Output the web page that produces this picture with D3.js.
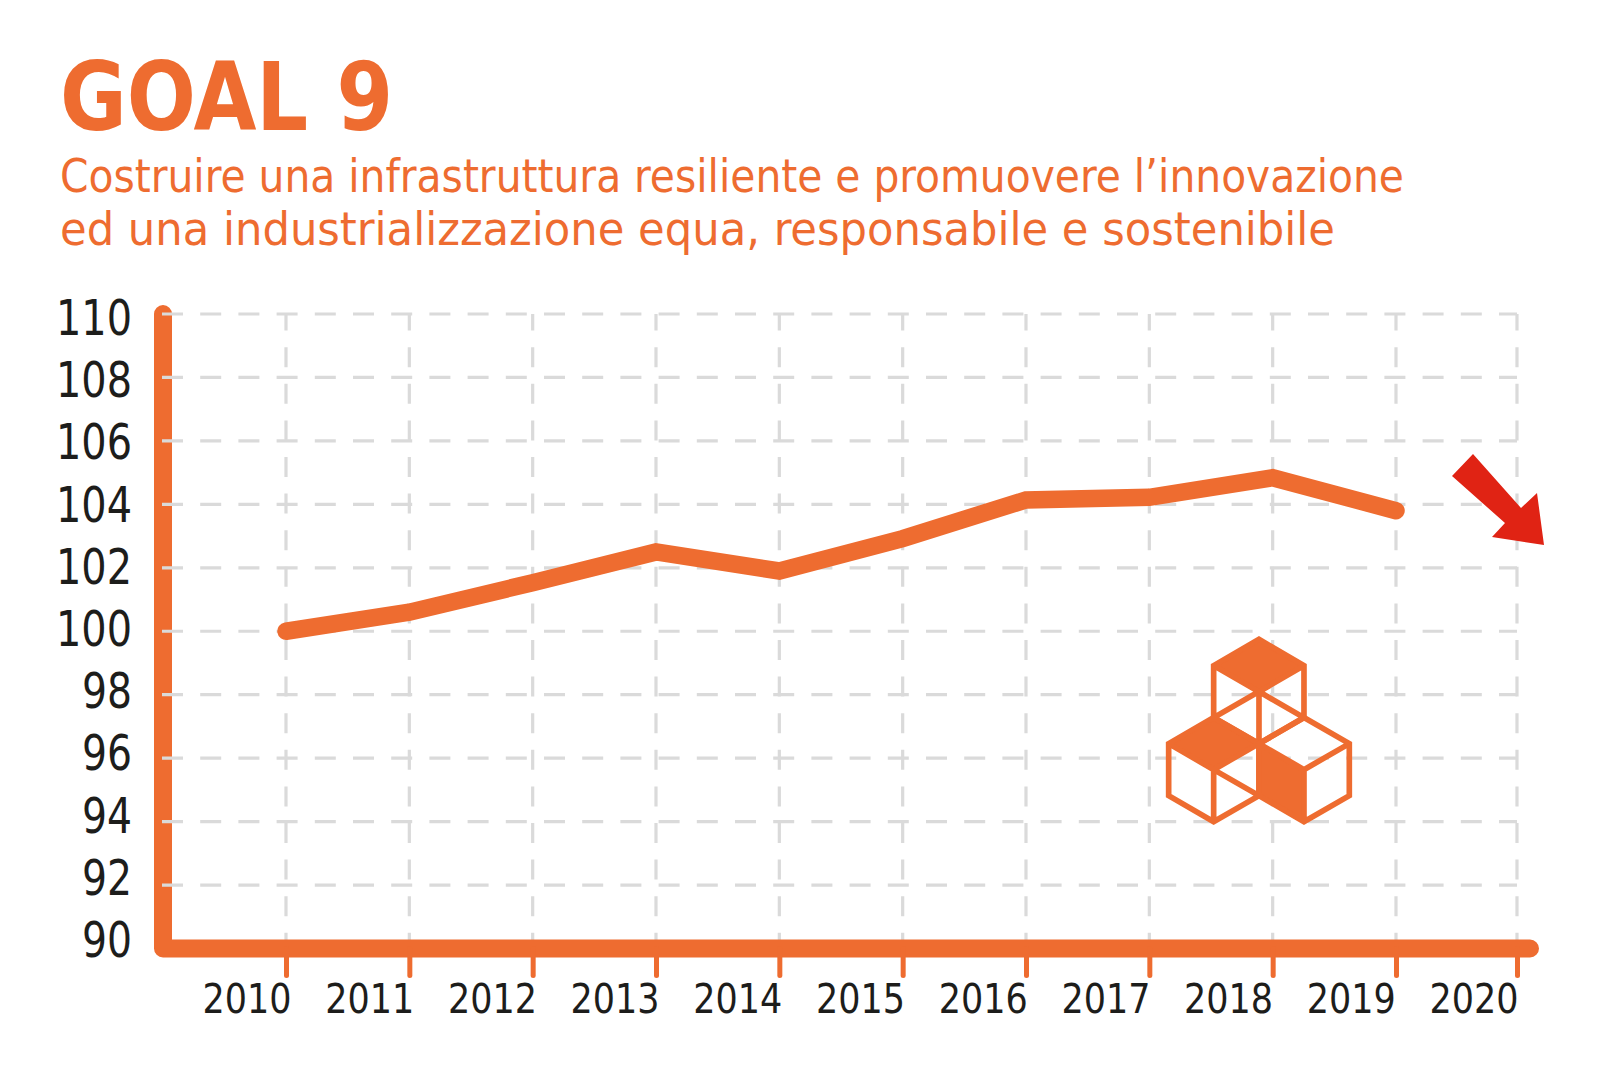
<!DOCTYPE html>
<html>
<head>
<meta charset="utf-8">
<script src="https://d3js.org/d3.v7.min.js"></script>
<style>
  html, body { margin: 0; padding: 0; background: #fff; }
  svg { display: block; }
  text { font-family: "DejaVu Sans Condensed", "DejaVu Sans", sans-serif; }
</style>
</head>
<body>
<svg id="chart" width="1600" height="1085"></svg>
<script>
const years = [2010, 2011, 2012, 2013, 2014, 2015, 2016, 2017, 2018, 2019];
const yearTicks = [2010, 2011, 2012, 2013, 2014, 2015, 2016, 2017, 2018, 2019, 2020];
const values = [100, 100.6, 101.53, 102.5, 101.9, 102.92, 104.14, 104.22, 104.84, 103.8];
const yTicks = [90, 92, 94, 96, 98, 100, 102, 104, 106, 108, 110];
const titleText = "GOAL 9";
const subtitleLines = [
  "Costruire una infrastruttura resiliente e promuovere l\u2019innovazione",
  "ed una industrializzazione equa, responsabile e sostenibile"
];

const orange = "#ee6c30";
const grey = "#dadada";
const svg = d3.select("#chart");

// last year sits a bit closer than the others in the original
const x = d3.scaleLinear().domain([2010, 2019, 2020]).range([286, 1396, 1517]);
const y = d3.scaleLinear().domain([90, 110]).range([948.5, 314]);
// tick labels are spaced a little tighter than the ticks and gridlines
const labelX = d3.scaleLinear().domain([2010, 2020]).range([291, 1518]);
const labelY = d3.scaleLinear().domain([90, 110]).range([957, 335]);

// title
svg.append("text")
  .attr("x", 60).attr("y", 130)
  .attr("font-size", 94).attr("font-weight", "bold")
  .attr("fill", orange)
  .attr("textLength", 333).attr("lengthAdjust", "spacingAndGlyphs")
  .text(titleText);

const subtitleWidths = [1344, 1275];
const subtitleBase = [192, 245];
subtitleLines.forEach((line, i) => {
  svg.append("text")
    .attr("x", 60).attr("y", subtitleBase[i])
    .attr("font-size", 46)
    .attr("fill", orange)
    .attr("textLength", subtitleWidths[i]).attr("lengthAdjust", "spacingAndGlyphs")
    .text(line);
});

// vertical grid
svg.append("g").selectAll("line")
  .data(yearTicks)
  .join("line")
  .attr("x1", d => x(d)).attr("x2", d => x(d))
  .attr("y1", y(110)).attr("y2", y(90))
  .attr("stroke", grey).attr("stroke-width", 3.2)
  .attr("stroke-dasharray", "20 16.6").attr("stroke-dashoffset", 3.4);

// axis lines
svg.append("path")
  .attr("d", d3.line()([[163, y(110)], [163, y(90)], [x(2020) + 13, y(90)]]))
  .attr("fill", "none").attr("stroke", orange).attr("stroke-width", 18)
  .attr("stroke-linecap", "round").attr("stroke-linejoin", "round");

// horizontal grid goes over the y axis line
svg.append("g").selectAll("line")
  .data(yTicks.filter(d => d > 90))
  .join("line")
  .attr("x1", 162).attr("x2", x(2020))
  .attr("y1", d => y(d)).attr("y2", d => y(d))
  .attr("stroke", grey).attr("stroke-width", 3.2)
  .attr("stroke-dasharray", "21 17.2");

// x axis ticks and labels
const xAxis = svg.append("g")
  .attr("transform", `translate(0,${y(90)})`)
  .call(d3.axisBottom(x).tickValues(yearTicks).tickFormat(d3.format("d")).tickSize(27).tickPadding(0));
xAxis.select(".domain").remove();
xAxis.selectAll("line")
  .attr("stroke", orange).attr("stroke-width", 5).attr("stroke-linecap", "round");
xAxis.selectAll("text")
  .attr("text-anchor", "end")
  .attr("x", d => labelX(d) - x(d)).attr("y", 64).attr("dy", 0)
  .attr("font-size", 41).attr("fill", "#1d1d1b")
  .attr("textLength", 89).attr("lengthAdjust", "spacingAndGlyphs");

// y axis labels
const yAxis = svg.append("g")
  .attr("transform", "translate(132,0)")
  .call(d3.axisLeft(y).tickValues(yTicks).tickSize(0).tickPadding(0));
yAxis.select(".domain").remove();
yAxis.selectAll(".tick").attr("transform", "translate(0,0)");
yAxis.selectAll("text")
  .attr("x", 0).attr("dy", 0)
  .attr("y", d => labelY(d))
  .attr("text-anchor", "end")
  .attr("font-size", 49).attr("fill", "#1d1d1b")
  .attr("textLength", d => d >= 100 ? 76 : 50).attr("lengthAdjust", "spacingAndGlyphs");

// series
const line = d3.line()
  .x((d, i) => x(years[i]))
  .y(d => y(d));
svg.append("path")
  .datum(values)
  .attr("d", line)
  .attr("fill", "none").attr("stroke", orange).attr("stroke-width", 17.5)
  .attr("stroke-linecap", "round").attr("stroke-linejoin", "miter");

// red trend arrow
svg.append("polygon")
  .attr("points", "1473,454 1452,476 1505,523 1492,537 1544,545 1537,493 1521,508")
  .attr("fill", "#e02314");

// cubes icon, drawn in zoomed units
const icon = svg.append("g").attr("transform", "translate(1100,420) scale(0.3333)");
const solidFaces = [
  "477,658 612,737 477,815 341,737",
  "341,893 477,971 341,1049 206,971",
  "477,971 612,1049 612,1205 477,1127"
];
const cubeOutlines = [
  "341,737 477,658 612,737 612,893 477,971 341,893 Z M341,737 477,815 612,737 M477,815 477,971 M341,893 477,815 612,893",
  "206,971 341,893 477,971 477,1127 341,1205 206,1127 Z M206,971 341,1049 477,971 M341,1049 341,1205 M341,1049 477,1127",
  "477,971 612,893 748,971 748,1127 612,1205 477,1127 Z M477,971 612,1049 748,971 M612,1049 612,1205"
];
icon.selectAll("polygon").data(solidFaces).join("polygon")
  .attr("points", d => d).attr("fill", orange);
icon.selectAll("path").data(cubeOutlines).join("path")
  .attr("d", d => "M" + d)
  .attr("fill", "none").attr("stroke", orange).attr("stroke-width", 17)
  .attr("stroke-linejoin", "miter");
</script>
</body>
</html>
